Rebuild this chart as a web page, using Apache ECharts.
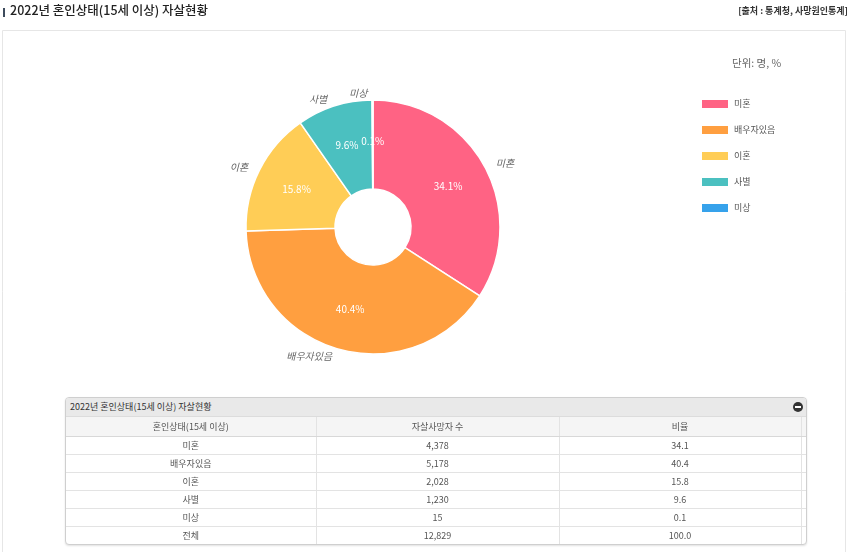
<!DOCTYPE html>
<html>
<head>
<meta charset="utf-8">
<script src="https://cdn.jsdelivr.net/npm/echarts@6/dist/echarts.min.js"></script>
<style>
  html, body { margin: 0; padding: 0; background: #fff; }
  #wrap { position: relative; width: 850px; height: 552px; overflow: hidden; font-family: "Noto Sans CJK KR", "Noto Sans", sans-serif; }
  #chart { position: absolute; left: 0; top: 0; width: 850px; height: 552px; }
  #tbl { position: absolute; left: 65px; top: 397px; width: 740px; border: 1px solid #cfcfcf; border-radius: 4px; box-shadow: 0 1px 2px rgba(0,0,0,0.12); background: #fff; overflow: hidden; }
  #tbl .cap { height: 18px; line-height: 18px; background: #e9e9e9; font-size: 9px; color: #333; padding-left: 4px; position: relative; border-bottom: 1px solid #dcdcdc; }
  #tbl .cap .ic { position: absolute; right: 3px; top: 4px; width: 10px; height: 10px; border-radius: 50%; background: #333; }
  #tbl .cap .ic:after { content: ""; position: absolute; left: 2px; top: 4px; width: 6px; height: 2px; background: #fff; }
  table { border-collapse: collapse; width: 100%; table-layout: fixed; }
  td, th { font-size: 9px; color: #555; text-align: center; height: 17px; padding: 0; border-bottom: 1px solid #e3e3e3; border-right: 1px solid #e3e3e3; font-weight: normal; }
  th { background: #f5f5f5; height: 19px; border-bottom: 1px solid #d8d8d8; }
  tr:last-child td { border-bottom: none; }
</style>
</head>
<body>
<div id="wrap">
  <div id="chart"></div>
  <div id="tbl"></div>
</div>
<script>
// ---- data ----
const chartTitle = '2022년 혼인상태(15세 이상) 자살현황';
const sourceText = '[출처 : 통계청, 사망원인통계]';
const unitText = '단위: 명, %';
const categories = ['미혼', '배우자있음', '이혼', '사별', '미상'];
const counts = [4378, 5178, 2028, 1230, 15];
const ratios = [34.1, 40.4, 15.8, 9.6, 0.1];
const totalLabel = '전체';
const totalCount = 12829;
const totalRatio = 100.0;
const tableHeaders = ['혼인상태(15세 이상)', '자살사망자 수', '비율'];
const colors = ['#ff6384', '#ff9f40', '#ffcd56', '#4bc0c0', '#36a2eb'];

// ---- table ----
(function buildTable() {
  const fmt = n => n.toLocaleString('en-US');
  let html = '<div class="cap">' + chartTitle + '<span class="ic"></span></div><table>';
  html += '<colgroup><col style="width:250px"><col style="width:243px"><col style="width:242px"><col style="width:5px"></colgroup>';
  html += '<tr>' + tableHeaders.map(h => '<th>' + h + '</th>').join('') + '<th style="border-right:none"></th></tr>';
  categories.forEach((c, i) => {
    html += '<tr><td>' + c + '</td><td>' + fmt(counts[i]) + '</td><td>' + ratios[i].toFixed(1) + '</td><td style="border-right:none"></td></tr>';
  });
  html += '<tr><td>' + totalLabel + '</td><td>' + fmt(totalCount) + '</td><td>' + totalRatio.toFixed(1) + '</td><td style="border-right:none"></td></tr>';
  html += '</table>';
  document.getElementById('tbl').innerHTML = html;
})();

// ---- chart ----
const chart = echarts.init(document.getElementById('chart'), null, { renderer: 'canvas' });
const FONT = '"Noto Sans CJK KR", "Noto Sans", sans-serif';
const pieData = categories.map((c, i) => ({ name: c, value: counts[i] }));

chart.setOption({
  animation: false,
  color: colors,
  textStyle: { fontFamily: FONT },
  graphic: [
    { type: 'rect', shape: { x: 2.5, y: 30.5, width: 843, height: 600 }, style: { fill: 'none', stroke: '#e6e6e6', lineWidth: 1 }, silent: true },
    { type: 'rect', shape: { x: 3, y: 8, width: 2, height: 9 }, style: { fill: '#3d4b5c' }, silent: true },
    { type: 'text', left: 10, top: 4, style: { text: chartTitle, font: '500 12.5px ' + FONT, fill: '#222' } },
    { type: 'text', right: 2, top: 6, style: { text: sourceText, font: 'bold 9px ' + FONT, fill: '#333' } },
    { type: 'text', left: 732, top: 58, style: { text: unitText, font: '10.5px ' + FONT, fill: '#666' } }
  ],
  legend: {
    orient: 'vertical',
    left: 695,
    top: 93,
    itemWidth: 28,
    itemHeight: 10,
    itemGap: 14,
    icon: 'rect',
    data: categories,
    textStyle: { fontSize: 9, color: '#555', fontFamily: FONT }
  },
  series: [
    {
      type: 'pie',
      center: [373, 227],
      radius: [38, 127],
      startAngle: 90,
      clockwise: true,
      avoidLabelOverlap: false,
      data: pieData,
      itemStyle: { borderColor: '#fff', borderWidth: 1.5 },
      label: {
        position: 'inside',
        color: '#fff',
        fontSize: 10,
        fontFamily: FONT,
        formatter: p => ratios[p.dataIndex].toFixed(1) + '%'
      },
      labelLine: { show: false },
      emphasis: { disabled: true }
    },
    {
      type: 'pie',
      center: [373, 227],
      radius: [38, 127],
      startAngle: 90,
      clockwise: true,
      avoidLabelOverlap: false,
      silent: true,
      data: pieData,
      itemStyle: { color: 'rgba(0,0,0,0)', borderWidth: 0 },
      label: {
        position: 'outside',
        color: '#666',
        fontSize: 10,
        fontStyle: 'italic',
        fontFamily: FONT,
        formatter: '{b}'
      },
      labelLine: { show: false, length: 7, length2: 0 },
      emphasis: { disabled: true }
    }
  ]
});
</script>
</body>
</html>
